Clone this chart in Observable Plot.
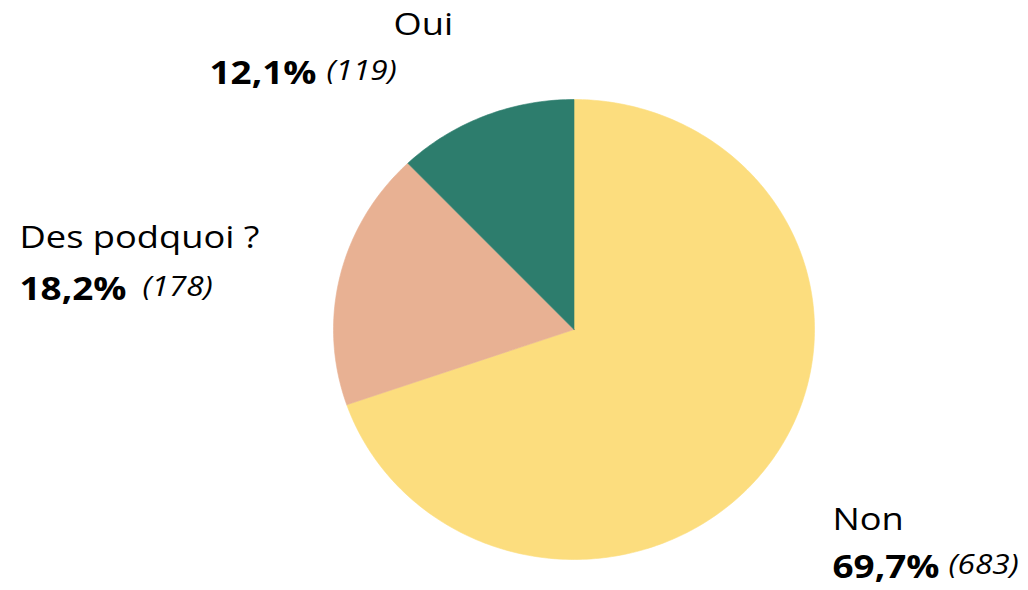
<!DOCTYPE html>
<html>
<head>
<meta charset="utf-8">
<script src="https://cdn.jsdelivr.net/npm/d3@7"></script>
<script src="https://cdn.jsdelivr.net/npm/@observablehq/plot@0.6"></script>
<style>
  html, body { margin: 0; padding: 0; background: #fff; }
  #chart svg { display: block; }
</style>
</head>
<body>
<div id="chart"></div>
<script>
// ---- data ----
const categories = ["Non", "Des podquoi ?", "Oui"];
const counts = [683, 178, 119];
const colors = ["#FCDD7E", "#E8B193", "#2D7D6D"];

// ---- layout (not data) ----
const W = 1028, H = 590;
const pie = {cx: 573.5, cy: 329, rx: 240.5, ry: 230};
const labelLayout = [
  {nameX: 832, nameY: 529, pctX: 832, pctY: 577, cntX: 948, cntY: 573},
  {nameX: 19,  nameY: 247, pctX: 19,  pctY: 299, cntX: 142, cntY: 295},
  {nameX: 393, nameY: 34,  pctX: 209, pctY: 83,  cntX: 326, cntY: 79}
];
const stretch = 1.17;
const FONT = "Open Sans, Lato, sans-serif";

const total = d3.sum(counts);
const rows = categories.map((c, i) => ({
  cat: c, value: counts[i],
  pct: (counts[i] / total * 100).toFixed(1).replace(".", ",") + "%",
  cnt: `(${counts[i]})`,
  ...labelLayout[i]
}));

// pie angles via d3.pie (clockwise from 12 o'clock)
const arcs = d3.pie().sort(null).value(d => d.value)(rows);
const pts = [];
arcs.forEach(a => {
  const cat = a.data.cat;
  pts.push({cat, x: pie.cx, y: pie.cy});
  const n = Math.max(2, Math.ceil((a.endAngle - a.startAngle) / (Math.PI * 2) * 360));
  for (let k = 0; k <= n; k++) {
    const t = a.startAngle + (a.endAngle - a.startAngle) * k / n;
    pts.push({cat, x: pie.cx + pie.rx * Math.sin(t), y: pie.cy - pie.ry * Math.cos(t)});
  }
  pts.push({cat, x: pie.cx, y: pie.cy});
});

const chart = Plot.plot({
  width: W, height: H,
  margin: 0,
  style: {fontFamily: FONT, background: "#fff", color: "#000"},
  x: {domain: [0, W], range: [0, W], axis: null},
  y: {domain: [0, H], range: [0, H], axis: null},
  color: {domain: categories, range: colors},
  marks: [
    Plot.line(pts, {x: "x", y: "y", z: "cat", fill: "cat", stroke: "cat", strokeWidth: 0.6, curve: "linear-closed"}),
    Plot.text(rows, {x: "nameX", y: "nameY", text: "cat", textAnchor: "start", lineAnchor: "bottom",
      fontSize: 31, fill: "#000", fontFamily: FONT}),
    Plot.text(rows, {x: "pctX", y: "pctY", text: "pct", textAnchor: "start", lineAnchor: "bottom",
      fontSize: 31.5, fontWeight: "bold", fill: "#000", fontFamily: FONT}),
    Plot.text(rows, {x: "cntX", y: "cntY", text: "cnt", textAnchor: "start", lineAnchor: "bottom",
      fontSize: 27, fontStyle: "italic", fill: "#000", fontFamily: FONT})
  ]
});

// widen glyphs horizontally to mimic the reference's stretched typeface
d3.select(chart).selectAll("g[aria-label='text'] text").each(function() {
  const t = this.getAttribute("transform");
  if (t) {
    this.setAttribute("transform", t + ` scale(${stretch},1)`);
  } else {
    const x = +this.getAttribute("x") || 0, y = +this.getAttribute("y") || 0;
    this.removeAttribute("x"); this.removeAttribute("y");
    this.setAttribute("transform", `translate(${x},${y}) scale(${stretch},1)`);
  }
});

document.getElementById("chart").append(chart);
</script>
</body>
</html>
